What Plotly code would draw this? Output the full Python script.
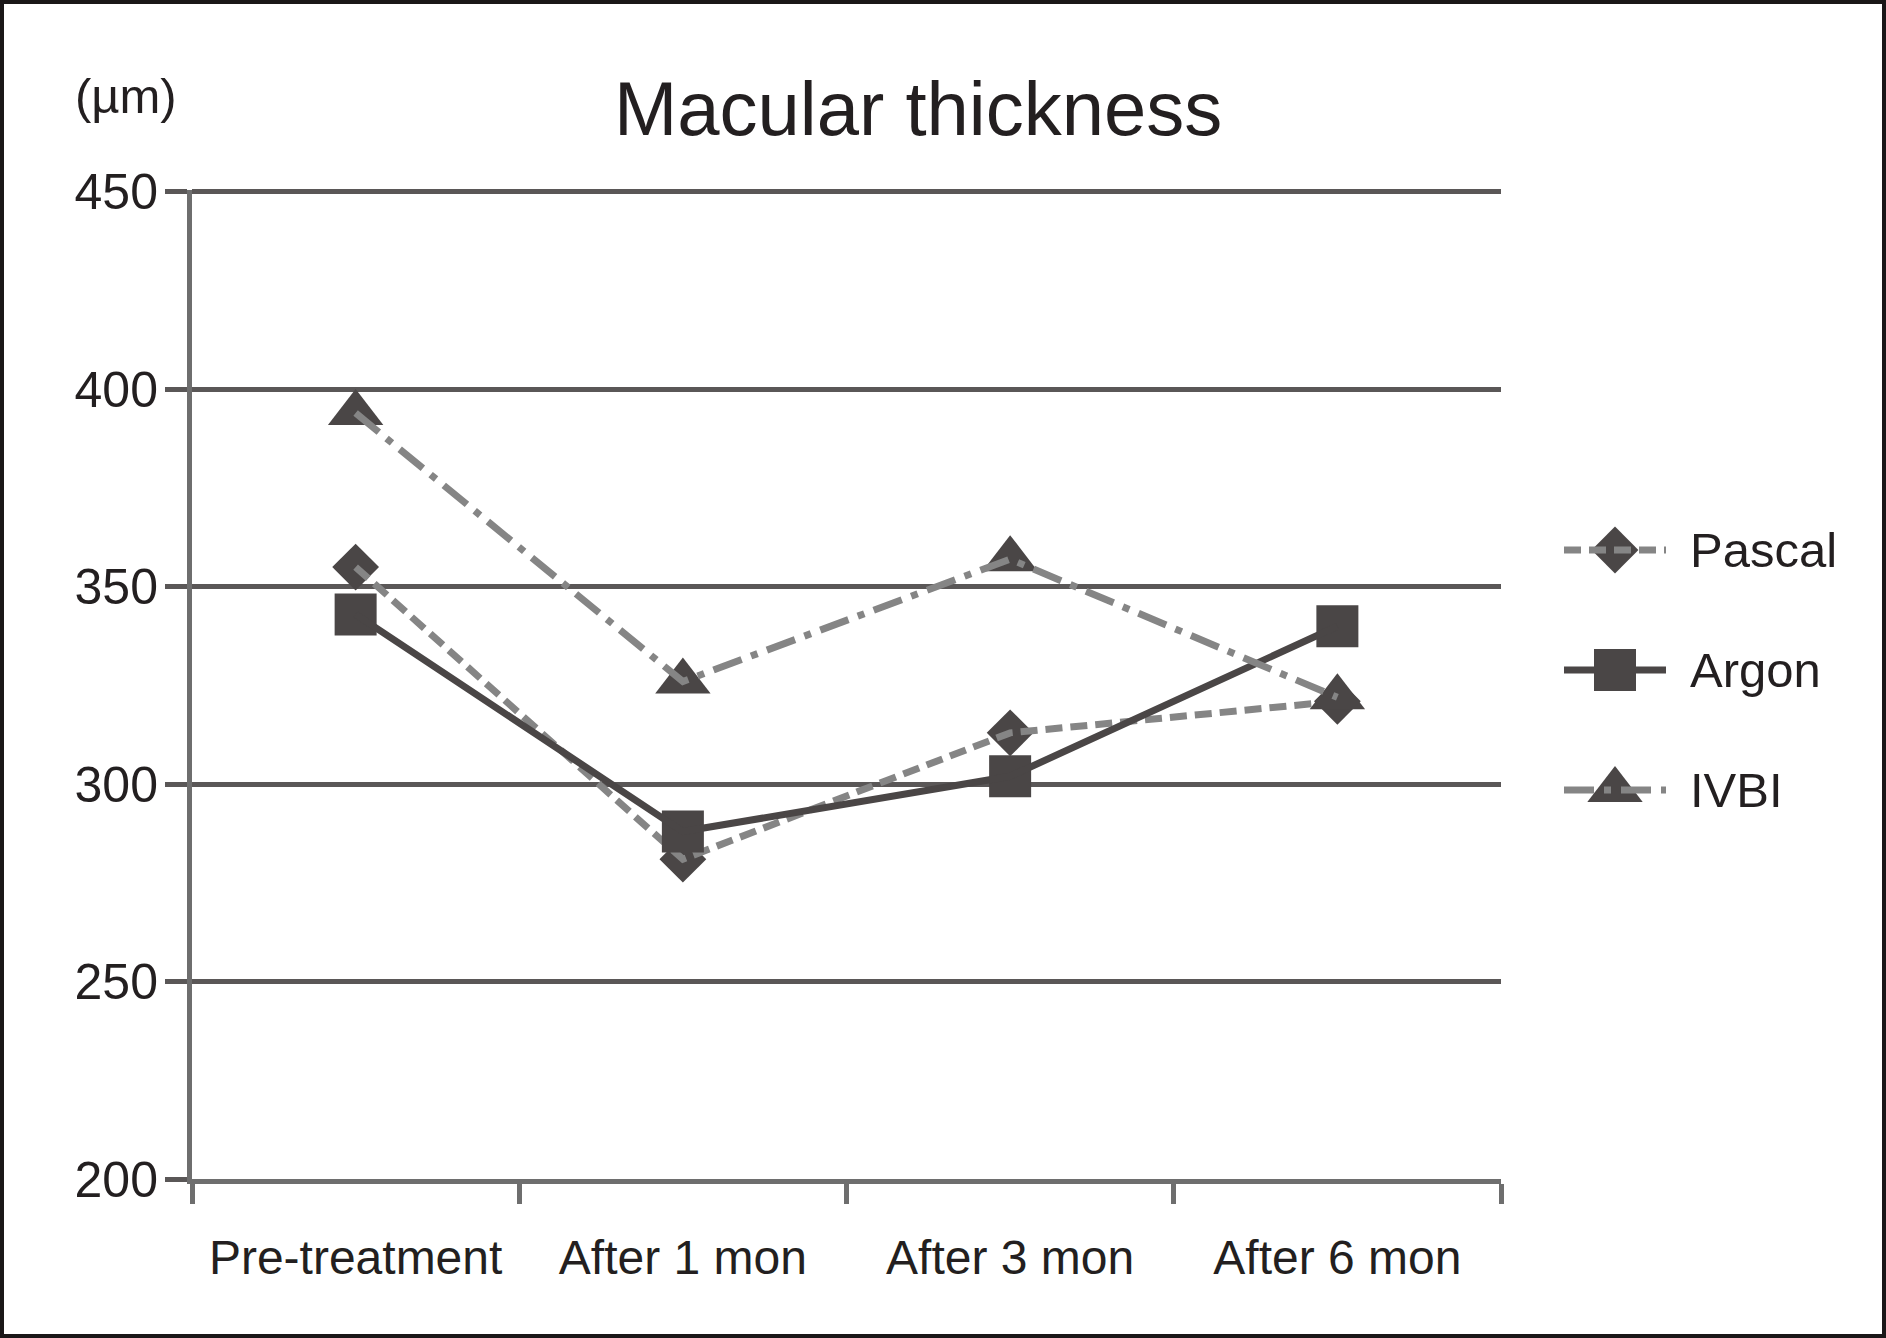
import plotly.graph_objects as go

# data
categories = ["Pre-treatment", "After 1 mon", "After 3 mon", "After 6 mon"]
pascal = [355, 281, 313, 321]
argon = [343, 288, 302, 340]
ivbi = [394, 326, 357, 322]
series_names = ["Pascal", "Argon", "IVBI"]
y_ticks = [200, 250, 300, 350, 400, 450]

W, H = 1886, 1338
# plot area in pixels
px0, px1 = 192, 1501
py_top, py_bot = 190, 1179

dark = "#4a4646"
gray = "#858585"
grid_color = "#5a5757"
axis_color = "#6e6e6e"
text_color = "#231f20"
font_family = "Liberation Sans, Arial, sans-serif"

styles = {
    "Pascal": dict(symbol="diamond", size=36, line_color=gray, dash="17px,8px", width=7),
    "Argon": dict(symbol="square", size=42, line_color=dark, dash="solid", width=7),
    "IVBI": dict(symbol="triangle-up", size=48, line_color=gray, dash="30px,10px,7px,10px", width=7),
}

fig = go.Figure()

for name, vals in zip(series_names, [pascal, argon, ivbi]):
    st = styles[name]
    # markers first, line on top (as in the reference)
    fig.add_trace(go.Scatter(
        x=categories, y=vals, mode="markers", showlegend=False, cliponaxis=False,
        marker=dict(symbol=st["symbol"], size=st["size"], color=dark, line=dict(width=0)),
        hoverinfo="skip",
    ))
    fig.add_trace(go.Scatter(
        x=categories, y=vals, mode="lines", name=name, showlegend=False, cliponaxis=False,
        line=dict(color=st["line_color"], width=st["width"], dash=st["dash"]),
    ))

# hand-drawn legend on a pixel-space helper axis
legend_rows = [550, 670, 790]
for name, ly in zip(series_names, legend_rows):
    st = styles[name]
    fig.add_trace(go.Scatter(
        x=[1615], y=[ly], mode="markers", xaxis="x2", yaxis="y2", showlegend=False,
        marker=dict(symbol=st["symbol"], size=st["size"], color=dark, line=dict(width=0)),
        hoverinfo="skip", cliponaxis=False,
    ))
    fig.add_trace(go.Scatter(
        x=[1564, 1666], y=[ly, ly], mode="lines", xaxis="x2", yaxis="y2", showlegend=False,
        line=dict(color=st["line_color"], width=st["width"], dash=st["dash"]),
        hoverinfo="skip", cliponaxis=False,
    ))
    fig.add_annotation(
        x=1688, y=ly, xref="x2", yref="y2", text=name, showarrow=False,
        xanchor="left", yanchor="middle",
        font=dict(size=49, color=text_color, family=font_family),
    )

# title and unit label
fig.add_annotation(
    x=918 / W, y=1 - 108 / H, xref="paper", yref="paper", text="Macular thickness",
    showarrow=False, xanchor="center", yanchor="middle",
    font=dict(size=76, color=text_color, family=font_family),
)
fig.add_annotation(
    x=126 / W, y=1 - 96 / H, xref="paper", yref="paper", text="(µm)",
    showarrow=False, xanchor="center", yanchor="middle",
    font=dict(size=49, color=text_color, family=font_family),
)

# outer frame
fig.add_shape(
    type="rect", xref="paper", yref="paper",
    x0=2 / W, x1=1 - 2 / W, y0=2 / H, y1=1 - 2 / H,
    line=dict(color="#1a1718", width=4), fillcolor="rgba(0,0,0,0)", layer="above",
)

fig.update_layout(
    width=W, height=H,
    margin=dict(l=0, r=0, t=0, b=0, pad=0, autoexpand=False),
    paper_bgcolor="white", plot_bgcolor="rgba(0,0,0,0)",
    showlegend=False,
    font=dict(family=font_family, color=text_color),
    xaxis=dict(
        domain=[px0 / W, px1 / W],
        type="category", categoryorder="array", categoryarray=categories,
        range=[-0.5, 3.5],
        tickson="boundaries", ticks="outside", ticklen=20, tickwidth=5, tickcolor=axis_color,
        showline=True, linecolor=axis_color, linewidth=5,
        showgrid=False, zeroline=False, automargin=False,
        tickfont=dict(size=48, color=text_color, family=font_family),
        ticklabelstandoff=32,
    ),
    yaxis=dict(
        domain=[1 - py_bot / H, 1 - py_top / H],
        range=[200, 450.5], tickvals=y_ticks,
        ticks="outside", ticklen=22, tickwidth=5, tickcolor=grid_color,
        showline=True, linecolor=axis_color, linewidth=5,
        showgrid=True, gridcolor=grid_color, gridwidth=5,
        zeroline=False, automargin=False,
        tickfont=dict(size=50, color=text_color, family=font_family),
        ticklabelstandoff=-3,
    ),
    xaxis2=dict(domain=[0, 1], range=[0, W], visible=False, anchor="y2", fixedrange=True),
    yaxis2=dict(domain=[0, 1], range=[H, 0], visible=False, anchor="x2", fixedrange=True),
)

fig.write_html("out.html", post_script="document.body.style.margin='0';",
               config={"displayModeBar": False})
